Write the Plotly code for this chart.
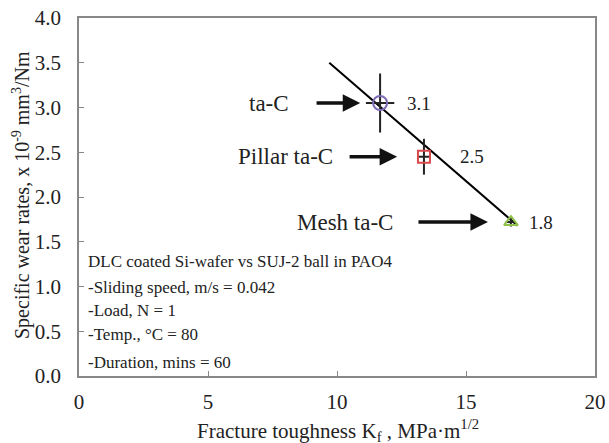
import plotly.graph_objects as go

# ---- data ----
coatings = ["ta-C", "Pillar ta-C", "Mesh ta-C"]
toughness = [11.67, 13.37, 16.74]
toughness_err = [0.55, 0.2, 0.2]
wear_rate = [3.05, 2.45, 1.72]
wear_err = [0.33, 0.2, 0.05]
value_labels = ["3.1", "2.5", "1.8"]
fit_x = [9.7, 17.0]
fit_y = [3.5, 1.68]
x_ticks = [0, 5, 10, 15, 20]
y_ticks = [0.0, 0.5, 1.0, 1.5, 2.0, 2.5, 3.0, 3.5, 4.0]
conditions = [
    "DLC coated Si-wafer vs SUJ-2 ball in PAO4",
    "-Sliding speed, m/s = 0.042",
    "-Load, N = 1",
    "-Temp., \u00b0C = 80",
    "-Duration, mins = 60",
]
x_title = "Fracture toughness K<sub>f</sub> , MPa\u00b7m<sup>1/2</sup>"
y_title = "Specific wear rates, x 10<sup>-9</sup> mm<sup>3</sup>/Nm"

FONT = "Liberation Serif, Times New Roman, serif"
TXT = "#222"
marker_symbols = ["circle-open", "square-open", "triangle-up-open"]
marker_colors = ["#7d6bb5", "#d9484a", "#8fc04a"]
marker_sizes = [14, 12, 12]

W, H = 609, 443
L, R, T, B = 79, 14, 18, 67
PW, PH = W - L - R, H - T - B


def px_to_paper(px, py):
    return (px - L) / PW, (H - B - py) / PH


fig = go.Figure()

fig.add_trace(go.Scatter(x=fit_x, y=fit_y, mode="lines",
                         line=dict(color="black", width=2), showlegend=False,
                         hoverinfo="skip"))

for i in range(len(coatings)):
    fig.add_trace(go.Scatter(
        x=[toughness[i]], y=[wear_rate[i]], mode="markers",
        marker=dict(symbol=marker_symbols[i], size=marker_sizes[i],
                    color=marker_colors[i], line=dict(width=2, color=marker_colors[i])),
        error_x=dict(type="data", array=[toughness_err[i]], color="#222", thickness=2, width=0),
        error_y=dict(type="data", array=[wear_err[i]], color="#222", thickness=2, width=0),
        name=coatings[i], showlegend=False))

annotations = []
label_right = [8.22, 9.92, 12.25]
arrow_tail = [9.15, 10.43, 13.10]
arrow_tip = [10.9, 12.33, 15.85]
value_left = [12.64, 14.69, 17.36]
for i, name in enumerate(coatings):
    annotations.append(dict(x=label_right[i], y=wear_rate[i], xref="x", yref="y",
                            text=name, showarrow=False, xanchor="right", yanchor="middle",
                            font=dict(family=FONT, size=23, color=TXT)))
    annotations.append(dict(x=arrow_tip[i], y=wear_rate[i], ax=arrow_tail[i], ay=wear_rate[i],
                            xref="x", yref="y", axref="x", ayref="y", text="",
                            showarrow=True, arrowhead=2, arrowsize=1.0, arrowwidth=3.5,
                            arrowcolor="#111"))
    annotations.append(dict(x=value_left[i], y=wear_rate[i], xref="x", yref="y",
                            text=value_labels[i], showarrow=False, xanchor="left",
                            yanchor="middle", font=dict(family=FONT, size=19, color=TXT)))

cond_y = [1.274, 0.994, 0.737, 0.469, 0.156]
for txt, yy in zip(conditions, cond_y):
    annotations.append(dict(x=0.27, y=yy, xref="x", yref="y", text=txt, showarrow=False,
                            xanchor="left", yanchor="middle",
                            font=dict(family=FONT, size=17, color=TXT)))

yx, yy_ = px_to_paper(22, 195)
annotations.append(dict(x=yx, y=yy_, xref="paper", yref="paper",
                        text=y_title, showarrow=False, textangle=-90,
                        xanchor="center", yanchor="middle",
                        font=dict(family=FONT, size=20, color=TXT)))
tx, ty = px_to_paper(338, 430)
annotations.append(dict(x=tx, y=ty, xref="paper", yref="paper",
                        text=x_title, showarrow=False,
                        xanchor="center", yanchor="middle",
                        font=dict(family=FONT, size=21, color=TXT)))

axis_common = dict(ticks="inside", ticklen=5, tickcolor="#888", showgrid=False,
                   zeroline=False, showline=True, linecolor="#888", linewidth=1.5,
                   mirror=True, automargin=False, ticklabeloverflow="allow",
                   tickfont=dict(family=FONT, size=21, color=TXT))

fig.update_layout(
    width=W, height=H,
    margin=dict(l=L, r=R, t=T, b=B),
    paper_bgcolor="white", plot_bgcolor="white",
    font=dict(family=FONT, color=TXT),
    annotations=annotations,
    xaxis=dict(range=[0, 20], tickvals=x_ticks, ticktext=[str(v) for v in x_ticks],
               ticklabelstandoff=6, **axis_common),
    yaxis=dict(range=[0, 4], tickvals=y_ticks, ticktext=[f"{v:.1f}" for v in y_ticks],
               ticklabelstandoff=12, **axis_common),
)

# remove the default page margin so the 609x443 figure fills the window exactly
fig.write_html("out.html", config={"displayModeBar": False},
               post_script="document.body.style.margin='0';document.body.style.overflow='hidden';")
